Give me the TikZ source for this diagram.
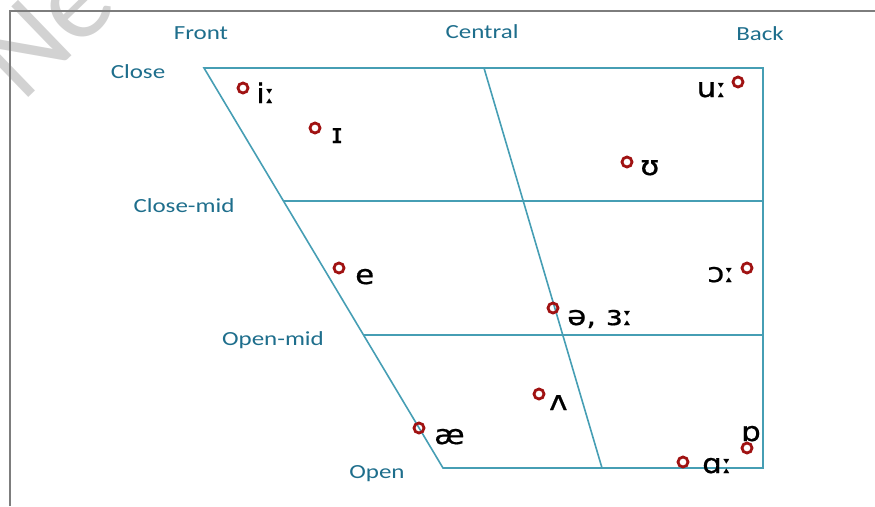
\documentclass[tikz,border=0pt]{standalone}
\usepackage{fontspec}
\setmainfont{Carlito}
\newfontfamily\labfont[FakeStretch=1.25]{Carlito}
\newfontfamily\ipafont[FakeStretch=1.15,FakeBold=0.6]{DejaVu Sans}
\newfontfamily\wmfont{Carlito}
\definecolor{linecol}{RGB}{70,158,180}
\definecolor{labcol}{RGB}{30,110,140}
\definecolor{dotcol}{RGB}{160,18,18}
\definecolor{framecol}{RGB}{125,125,125}
\definecolor{wmcol}{RGB}{210,210,210}
\begin{document}
\begin{tikzpicture}[x=1pt,y=-1pt,
  lab/.style={text=labcol,font=\labfont\fontsize{20}{20}\selectfont,inner sep=0},
  ipa/.style={font=\ipafont\fontsize{27}{27}\selectfont,inner sep=0},
  vdot/.style={circle,draw=dotcol,line width=2.8pt,minimum size=10pt,inner sep=0},
  gridline/.style={draw=linecol,line width=1.6pt},
  framelines/.style={draw=framecol,line width=1.8pt}]
\useasboundingbox (0,0) rectangle (875,506);
% watermark
\node[text=wmcol,font=\wmfont\fontsize{120}{120}\selectfont,rotate=44,anchor=base west,inner sep=0] (wm) at (22,104) {Ne};
% frame
\coordinate (f1) at (10,506);
\coordinate (f2) at (10,11);
\coordinate (f3) at (875,11);
\draw[framelines] (f1) -- (f2) -- (f3);
% chart corners
\coordinate (tl) at (204,68);
\coordinate (tr) at (763,68);
\coordinate (br) at (763,468);
\coordinate (bl) at (443,468);
\coordinate (tc) at (484,68);
\coordinate (bc) at (602,468);
\coordinate (cml) at (283.5,201);
\coordinate (cmr) at (763,201);
\coordinate (oml) at (363.5,335);
\coordinate (omr) at (763,335);
\draw[gridline] (tl) -- (tr) -- (br) -- (bl) -- cycle;
\draw[gridline] (tc) -- (bc);
\draw[gridline] (cml) -- (cmr);
\draw[gridline] (oml) -- (omr);
% labels
\node[lab,anchor=base] (front) at (201,39) {Front};
\node[lab,anchor=base] (central) at (482,38) {Central};
\node[lab,anchor=base] (back) at (760,40) {Back};
\node[lab,anchor=base] (close) at (138,78) {Close};
\node[lab,anchor=base] (closemid) at (184,212) {Close-mid};
\node[lab,anchor=base] (openmid) at (273,345) {Open-mid};
\node[lab,anchor=base] (open) at (377,478) {Open};
% vowel dots
\node[vdot] (d1) at (243,88) {};
\node[vdot] (d2) at (315,128) {};
\node[vdot] (d3) at (738,82) {};
\node[vdot] (d4) at (627,162) {};
\node[vdot] (d5) at (339,268) {};
\node[vdot] (d6) at (747,268) {};
\node[vdot] (d7) at (553,308) {};
\node[vdot] (d8) at (539,394) {};
\node[vdot] (d9) at (419,428) {};
\node[vdot] (d10) at (683,462) {};
\node[vdot] (d11) at (747,448) {};
% vowel symbols
\node[ipa,anchor=base west] (v1) at (256,103) {iː};
\node[ipa,anchor=base west] (v2) at (331,143) {ɪ};
\node[ipa,anchor=base east] (v3) at (727,97) {uː};
\node[ipa,anchor=base west] (v4) at (640,175) {ʊ};
\node[ipa,anchor=base west] (v5) at (355,284) {e};
\node[ipa,anchor=base east] (v6) at (735,282) {ɔː};
\node[ipa,anchor=base west] (v7) at (567,325) {ə, ɜː};
\node[ipa,anchor=base west] (v8) at (549,410) {ʌ};
\node[ipa,anchor=base west] (v9) at (434,444) {æ};
\node[ipa,anchor=base west] (v10) at (702,473) {ɑː};
\node[ipa,anchor=base] (v11) at (751,441) {ɒ};
\end{tikzpicture}
\end{document}
